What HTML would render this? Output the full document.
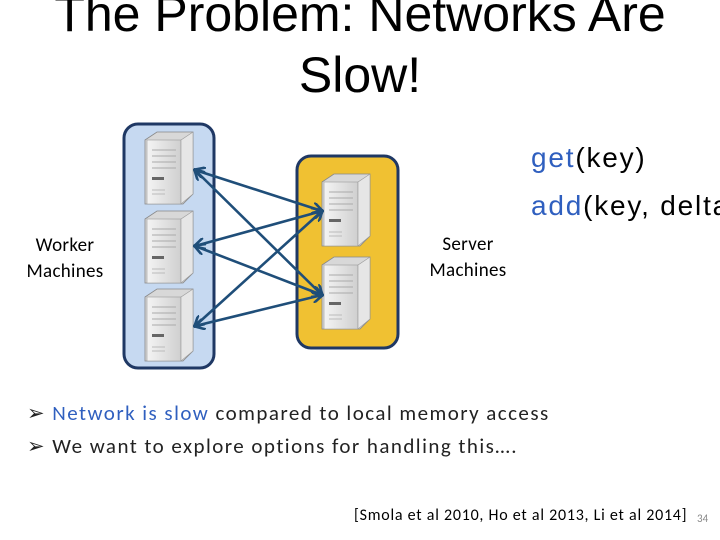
<!DOCTYPE html>
<html><head><style>
body{margin:0;width:720px;height:540px;background:#fff;overflow:hidden;position:relative;font-family:"Liberation Sans",sans-serif}
.t{position:absolute;left:0;width:720px;text-align:center;font-size:50px;color:#000;line-height:60px}
.c{position:absolute;font-family:Calibri,"Carlito","DejaVu Sans",sans-serif}
</style></head><body>
<div class="t" style="top:-16px">The Problem: Networks Are</div>
<div class="t" style="top:45px">Slow!</div>
<svg width="720" height="540" style="position:absolute;left:0;top:0">
<defs>
<linearGradient id="g" x1="0" x2="1"><stop offset="0" stop-color="#f4f4f4"/><stop offset="1" stop-color="#cfcfcf"/></linearGradient>
<g id="s">
<polygon points="0,8 12,0 48,0 48,62 38,72 0,72" fill="#d8d8d8" stroke="#888" stroke-width="0.8"/>
<rect x="2" y="8" width="34" height="64" fill="url(#g)" stroke="#999" stroke-width="0.6"/>
<polygon points="36,8 48,0 48,62 36,72" fill="#e6e6e6" stroke="#999" stroke-width="0.6"/>
<g stroke="#aaa" stroke-width="1"><line x1="7" y1="18" x2="31" y2="18"/><line x1="7" y1="24" x2="31" y2="24"/><line x1="7" y1="30" x2="31" y2="30"/><line x1="7" y1="36" x2="31" y2="36"/></g>
<rect x="7" y="45" width="12" height="3" fill="#666"/>
<g stroke="#bbb"><line x1="7" y1="58" x2="20" y2="58"/><line x1="7" y1="62" x2="20" y2="62"/></g>
</g>
<marker id="a" markerWidth="12" markerHeight="12" refX="10" refY="6" orient="auto-start-reverse" markerUnits="userSpaceOnUse"><path d="M0,0 L11,6 L0,12" fill="none" stroke="#1f4e79" stroke-width="2.6"/></marker>
</defs>
<rect x="124" y="124" width="90" height="244" rx="14" fill="#c6d9f1" stroke="#1f3864" stroke-width="3"/>
<rect x="297" y="156" width="101" height="192" rx="14" fill="#f0c132" stroke="#1f3864" stroke-width="3"/>
<use href="#s" x="145" y="132"/><use href="#s" x="145" y="211"/><use href="#s" x="145" y="289"/>
<use href="#s" x="322" y="174"/><use href="#s" x="322" y="257"/>
<g stroke="#1f4e79" stroke-width="2.6" marker-start="url(#a)" marker-end="url(#a)">
<line x1="195" y1="170" x2="322" y2="211"/><line x1="195" y1="170" x2="322" y2="295"/>
<line x1="195" y1="246" x2="322" y2="211"/><line x1="195" y1="246" x2="322" y2="295"/>
<line x1="195" y1="326" x2="322" y2="211"/><line x1="195" y1="326" x2="322" y2="295"/>
</g>
</svg>
<div class="c" style="left:5px;top:233px;width:120px;text-align:center;font-size:19px;line-height:26px;letter-spacing:0.3px">Worker<br>Machines</div>
<div class="c" style="left:408px;top:232px;width:120px;text-align:center;font-size:19px;line-height:26px;letter-spacing:0.3px">Server<br>Machines</div>
<div style="position:absolute;left:531px;top:134px;font-size:28px;line-height:48px;white-space:nowrap;letter-spacing:1.8px"><span style="color:#2f5fbf">get</span>(key)<br><span style="color:#2f5fbf">add</span>(key, delta)</div>
<div class="c" style="left:27px;top:397px;font-size:21px;line-height:33px;white-space:nowrap;color:#222;letter-spacing:1.45px">➢ <span style="color:#2f5fbf">Network is slow</span> compared to local memory access<br>➢ We want to explore options for handling this….</div>
<div class="c" style="left:354px;top:506px;font-size:16px;white-space:nowrap;letter-spacing:0.75px">[Smola et al 2010, Ho et al 2013, Li et al 2014]</div>
<div class="c" style="left:697px;top:512px;font-size:11px;color:#888">34</div>
</body></html>
